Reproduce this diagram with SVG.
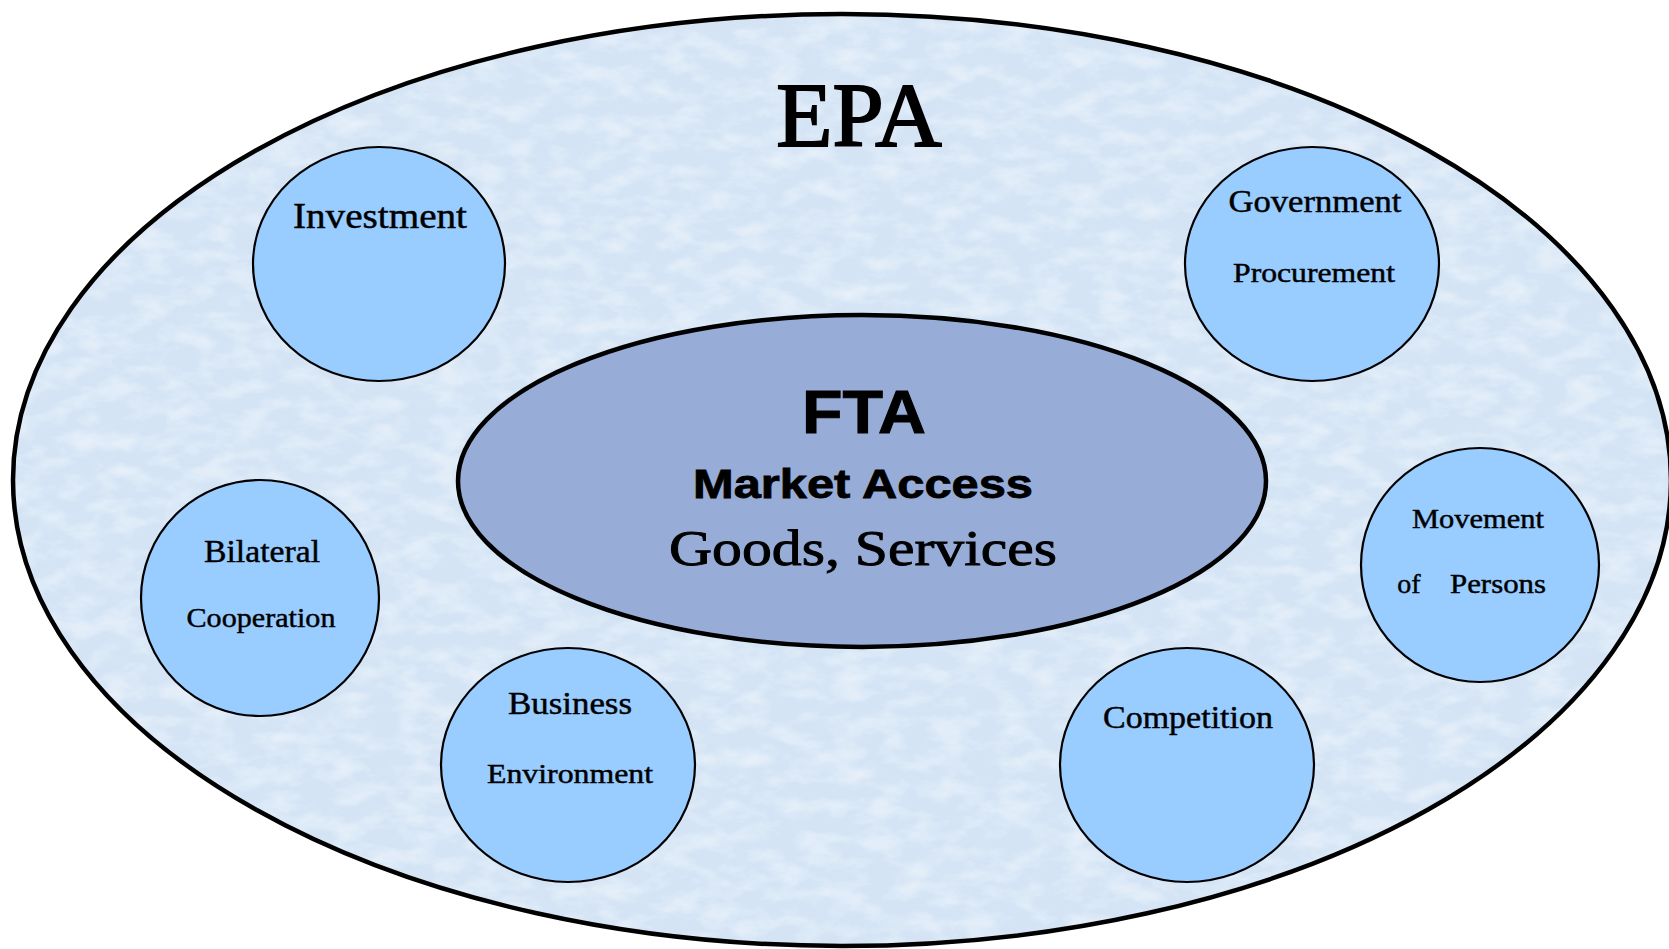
<svg xmlns="http://www.w3.org/2000/svg" width="1669" height="949" viewBox="0 0 1669 949">
<style>
.node{fill:#99ccff;stroke:#000;stroke-width:2.2}
.lbl{font-family:"Liberation Serif","Times New Roman",serif;fill:#000;stroke:#000;stroke-width:0.45;text-anchor:middle}
.sans{font-family:"Liberation Sans",Arial,sans-serif;font-weight:bold;fill:#000;text-anchor:middle}
</style>
<defs>
<filter id="tex" x="0" y="0" width="100%" height="100%">
<feTurbulence type="fractalNoise" baseFrequency="0.03 0.06" numOctaves="4" seed="5" result="n"/>
<feColorMatrix in="n" type="matrix" values="0 0 0 0 1  0 0 0 0 1  0 0 0 0 1  0 0 0 -1.8 1.1" result="w"/>
<feComposite in="w" in2="SourceGraphic" operator="in"/>
</filter>
</defs>
<rect width="1669" height="949" fill="#ffffff"/>
<g id="epa">
<ellipse cx="842" cy="480" rx="829" ry="466" fill="#d4e4f5"/>
<ellipse cx="842" cy="480" rx="829" ry="466" fill="#ffffff" opacity="0.5" filter="url(#tex)"/>
<ellipse cx="842" cy="480" rx="829" ry="466" fill="none" stroke="#000" stroke-width="4.5"/>
<text class="lbl" x="859" y="146" font-size="92" style="stroke-width:2">EPA</text>
</g>
<g id="fta">
<ellipse cx="862" cy="481" rx="404" ry="166" fill="#97acd6" stroke="#000" stroke-width="4.5"/>
<text class="sans" x="864" y="433" font-size="62" stroke="#000" stroke-width="1" textLength="124" lengthAdjust="spacingAndGlyphs">FTA</text>
<text class="sans" x="863" y="498" font-size="40" stroke="#000" stroke-width="0.8" textLength="340" lengthAdjust="spacingAndGlyphs">Market Access</text>
<text class="lbl" x="863" y="565" font-size="50" style="stroke-width:0.9" textLength="388" lengthAdjust="spacingAndGlyphs">Goods, Services</text>
</g>
<g id="investment">
<ellipse class="node" cx="379" cy="264" rx="126" ry="117"/>
<text class="lbl" x="380" y="228" font-size="35" textLength="174" lengthAdjust="spacingAndGlyphs">Investment</text>
</g>
<g id="government-procurement">
<ellipse class="node" cx="1312" cy="264" rx="127" ry="117"/>
<text class="lbl" x="1315" y="212" font-size="31" textLength="173" lengthAdjust="spacingAndGlyphs">Government</text>
<text class="lbl" x="1314" y="282" font-size="27" textLength="162" lengthAdjust="spacingAndGlyphs">Procurement</text>
</g>
<g id="bilateral-cooperation">
<ellipse class="node" cx="260" cy="598" rx="119" ry="118"/>
<text class="lbl" x="262" y="562" font-size="31" textLength="116" lengthAdjust="spacingAndGlyphs">Bilateral</text>
<text class="lbl" x="261" y="627" font-size="28" textLength="149" lengthAdjust="spacingAndGlyphs">Cooperation</text>
</g>
<g id="business-environment">
<ellipse class="node" cx="568" cy="765" rx="127" ry="117"/>
<text class="lbl" x="570" y="714" font-size="32" textLength="124" lengthAdjust="spacingAndGlyphs">Business</text>
<text class="lbl" x="570" y="783" font-size="27" textLength="166" lengthAdjust="spacingAndGlyphs">Environment</text>
</g>
<g id="competition">
<ellipse class="node" cx="1187" cy="765" rx="127" ry="117"/>
<text class="lbl" x="1188" y="728" font-size="32" textLength="170" lengthAdjust="spacingAndGlyphs">Competition</text>
</g>
<g id="movement-of-persons">
<ellipse class="node" cx="1480" cy="565" rx="119" ry="117"/>
<text class="lbl" x="1478" y="528" font-size="27" textLength="132" lengthAdjust="spacingAndGlyphs">Movement</text>
<text class="lbl" y="593" font-size="28"><tspan x="1409">of</tspan><tspan x="1498" textLength="96" lengthAdjust="spacingAndGlyphs">Persons</tspan></text>
</g>
<g id="connectors"/>
</svg>
